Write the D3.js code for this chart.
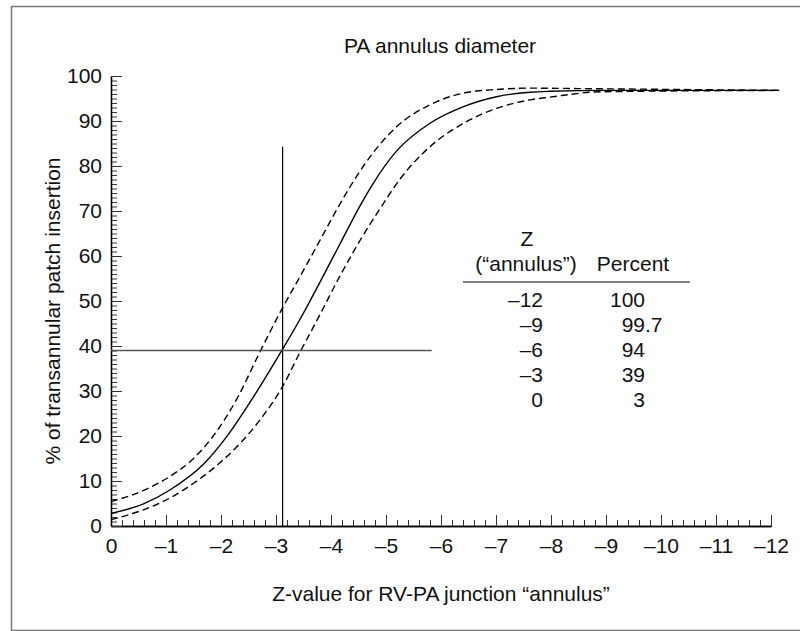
<!DOCTYPE html>
<html>
<head>
<meta charset="utf-8">
<script src="https://cdn.jsdelivr.net/npm/d3@7"></script>
<style>
  body { margin: 0; background: #fff; }
  text { font-family: "Liberation Sans", Arial, sans-serif; fill: #111; }
</style>
</head>
<body>
<script>
// Chart values

let xTickValues = [0, -1, -2, -3, -4, -5, -6, -7, -8, -9, -10, -11, -12]
let yTickValues = [0, 10, 20, 30, 40, 50, 60, 70, 80, 90, 100]

// estimated curve: [Z, percent]
let solidCurve = [[0, 2.8], [-0.59, 4.9], [-1.07, 8], [-1.68, 13.7], [-2.1, 19.8], [-2.59, 28.7],
  [-3.12, 39.3], [-3.44, 46.0], [-3.8, 54.2], [-4.16, 62.6], [-4.53, 71.2], [-4.74, 75.6],
  [-5.19, 83.3], [-5.8, 89.5], [-6.41, 93.2], [-7.01, 95.4], [-7.62, 96.4], [-7.98, 96.6],
  [-9, 96.8], [-12.15, 96.8]]

let upperCurve = [[0, 5.4], [-0.59, 7.9], [-1.07, 11], [-1.5, 15], [-1.86, 20], [-2.3, 28.5],
  [-2.7, 38.5], [-3.12, 48.5], [-3.44, 55.5], [-3.8, 63.5], [-4.16, 71.5], [-4.59, 80],
  [-5.19, 88.7], [-5.8, 93.6], [-6.41, 96.2], [-7.01, 97.0], [-7.62, 97.3], [-8.5, 97.2],
  [-12.15, 96.8]]

let lowerCurve = [[0, 1.4], [-0.59, 3.6], [-1.07, 6.2], [-1.5, 9.5], [-1.86, 12.8], [-2.35, 18.4],
  [-2.71, 23.6], [-3.12, 31], [-3.44, 38.7], [-3.8, 47], [-4.16, 55.5], [-4.53, 63.5],
  [-4.89, 70.5], [-5.28, 77.5], [-5.8, 84.3], [-6.41, 89.5], [-7.01, 92.8], [-7.62, 94.7],
  [-7.98, 95.3], [-8.9, 96.5], [-12.15, 96.8]]

// reference lines
let refZ = -3.12
let refZTop = 84.3
let refPct = 39
let refPctEnd = -5.83

// inset table
let tableZ = ["\u201312", "\u20139", "\u20136", "\u20133", "0"]
let tablePct = ["100", "99.7", "94", "39", "3"]

let svgWidth = 800
let svgHeight = 631
let fontSize = 21

let svg = d3.select("body")
  .append("svg")
  .attr("width", svgWidth)
  .attr("height", svgHeight)

// outer frame
svg.append("rect")
  .attr("x", 11.5)
  .attr("y", 6.5)
  .attr("width", 800)
  .attr("height", 624)
  .attr("fill", "none")
  .attr("stroke", "#777")
  .attr("stroke-width", 1.5)

let xScale = d3.scaleLinear().domain([0, -12]).range([111, 771])
let yScale = d3.scaleLinear().domain([0, 100]).range([526, 76])

let fmt = d => d < 0 ? "\u2013" + Math.abs(d) : String(d)

// minor ticks
let xMinor = d3.range(0, 60.5, 1).map(i => -i * 0.2)
let yMinor = d3.range(0, 101, 1)

svg.append("g")
  .attr("transform", `translate(0, ${yScale(0)})`)
  .call(d3.axisBottom(xScale).tickValues(xMinor).tickSizeInner(-6).tickSizeOuter(0).tickFormat(""))
svg.append("g")
  .attr("transform", `translate(${xScale(0)}, 0)`)
  .call(d3.axisLeft(yScale).tickValues(yMinor).tickSizeInner(-6).tickSizeOuter(0).tickFormat(""))

// major ticks + labels
svg.append("g")
  .attr("transform", `translate(0, ${yScale(0)})`)
  .call(d3.axisBottom(xScale).tickValues(xTickValues).tickSizeInner(-11).tickSizeOuter(0)
    .tickPadding(12).tickFormat(fmt))
svg.append("g")
  .attr("transform", `translate(${xScale(0)}, 0)`)
  .call(d3.axisLeft(yScale).tickValues(yTickValues).tickSizeInner(-11).tickSizeOuter(0)
    .tickPadding(9).tickFormat(fmt))

svg.selectAll(".tick line").attr("stroke", "#333")
svg.selectAll(".domain").attr("stroke", "#000").attr("stroke-width", 1.3)
svg.selectAll(".tick text").attr("font-size", fontSize).attr("font-family", "Liberation Sans, Arial, sans-serif").attr("fill", "#111")

// curves
let line = d3.line()
  .x(d => xScale(d[0]))
  .y(d => yScale(d[1]))
  .curve(d3.curveMonotoneX)

svg.append("path")
  .datum(solidCurve)
  .attr("d", line)
  .attr("fill", "none")
  .attr("stroke", "#000")
  .attr("stroke-width", 1.4)

let dashed = [upperCurve, lowerCurve]
svg.selectAll(".ci")
  .data(dashed)
  .enter().append("path")
  .attr("class", "ci")
  .attr("d", line)
  .attr("fill", "none")
  .attr("stroke", "#000")
  .attr("stroke-width", 1.4)
  .attr("stroke-dasharray", "7,4")

// reference lines
svg.append("line")
  .attr("x1", xScale(refZ)).attr("x2", xScale(refZ))
  .attr("y1", yScale(0)).attr("y2", yScale(refZTop))
  .attr("stroke", "#000")
  .attr("stroke-width", 1.2)

svg.append("line")
  .attr("x1", xScale(0)).attr("x2", xScale(refPctEnd))
  .attr("y1", yScale(refPct)).attr("y2", yScale(refPct))
  .attr("stroke", "#555")
  .attr("stroke-width", 1.4)

// title and axis labels
svg.append("text")
  .attr("x", 440)
  .attr("y", 53)
  .attr("text-anchor", "middle")
  .attr("font-size", fontSize)
  .text("PA annulus diameter")

svg.append("text")
  .attr("x", 441)
  .attr("y", 601)
  .attr("text-anchor", "middle")
  .attr("font-size", fontSize)
  .text("Z-value for RV-PA junction \u201cannulus\u201d")

svg.append("text")
  .attr("transform", `translate(60, ${(yScale(0) + yScale(100)) / 2 + 10}) rotate(-90)`)
  .attr("text-anchor", "middle")
  .attr("font-size", fontSize)
  .text("% of transannular patch insertion")

// inset table
let table = svg.append("g")

table.append("text")
  .attr("x", 527).attr("y", 246)
  .attr("text-anchor", "middle")
  .attr("font-size", fontSize)
  .text("Z")

table.append("text")
  .attr("x", 526).attr("y", 271)
  .attr("text-anchor", "middle")
  .attr("font-size", fontSize)
  .text("(\u201cannulus\u201d)")

table.append("text")
  .attr("x", 633).attr("y", 271)
  .attr("text-anchor", "middle")
  .attr("font-size", fontSize)
  .text("Percent")

table.append("line")
  .attr("x1", 463).attr("x2", 690)
  .attr("y1", 282).attr("y2", 282)
  .attr("stroke", "#555")
  .attr("stroke-width", 1.4)

let rows = table.selectAll(".row")
  .data(tableZ)
  .enter().append("g")
  .attr("class", "row")
  .attr("transform", (d, i) => `translate(0, ${307 + i * 25})`)

rows.append("text")
  .attr("x", 543)
  .attr("text-anchor", "end")
  .attr("font-size", fontSize)
  .text(d => d)

// percent column aligned on the decimal point
rows.append("text")
  .attr("x", 645)
  .attr("text-anchor", "end")
  .attr("font-size", fontSize)
  .text((d, i) => tablePct[i].split(".")[0])

rows.append("text")
  .attr("x", 645)
  .attr("font-size", fontSize)
  .text((d, i) => tablePct[i].includes(".") ? "." + tablePct[i].split(".")[1] : "")
</script>
</body>
</html>
